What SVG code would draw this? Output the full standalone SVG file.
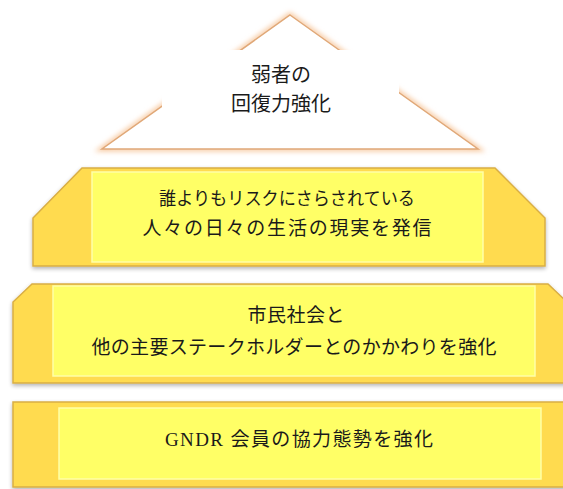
<svg xmlns="http://www.w3.org/2000/svg" width="563" height="489" viewBox="0 0 563 489">
<defs>
<filter id="glow" x="-10%" y="-10%" width="120%" height="120%">
<feGaussianBlur stdDeviation="2.5"/>
</filter>
<filter id="shadow" x="-5%" y="-10%" width="110%" height="130%">
<feGaussianBlur in="SourceAlpha" stdDeviation="2"/>
<feOffset dx="0" dy="2" result="b"/>
<feComponentTransfer><feFuncA type="linear" slope="0.3"/></feComponentTransfer>
<feMerge><feMergeNode/><feMergeNode in="SourceGraphic"/></feMerge>
</filter>
</defs>
<style>
.outer{fill:#FFDB4F;stroke:#D9AE45;stroke-width:1.5;filter:url(#shadow)}
.inner{fill:#FFFF66;stroke:#FFFFA8;stroke-width:1.5}
text{font-family:"Liberation Serif","Noto Sans CJK JP",serif;fill:#1a1a1a;text-anchor:middle}
</style>
<rect width="563" height="489" fill="#ffffff"/>
<g id="tier-top">
<polygon points="290,15 478,149 102,149" fill="none" stroke="#F7C9A0" stroke-width="5" filter="url(#glow)"/>
<polygon points="290,15 478,149 102,149" fill="#ffffff" stroke="#E0A878" stroke-width="1.5"/>
<rect x="162" y="50" width="237" height="87" fill="#ffffff"/>
<text x="281" y="82" font-size="20">弱者の</text>
<text x="281" y="111" font-size="20">回復力強化</text>
</g>
<g id="tier-2">
<polygon class="outer" points="82,168 495,168 545,218 545,266 33,266 33,218"/>
<rect class="inner" x="92" y="172" width="391" height="90"/>
<text x="287" y="205" font-size="18" textLength="256" lengthAdjust="spacingAndGlyphs">誰よりもリスクにさらされている</text>
<text x="287" y="235" font-size="19" textLength="289" lengthAdjust="spacing">人々の日々の生活の現実を発信</text>
</g>
<g id="tier-3">
<polygon class="outer" points="32,284 548,284 567,302 567,383 13,383 13,302"/>
<rect class="inner" x="53" y="286" width="482" height="90"/>
<text x="296" y="322" font-size="19" textLength="97" lengthAdjust="spacing">市民社会と</text>
<text x="294" y="354" font-size="19" textLength="405" lengthAdjust="spacing">他の主要ステークホルダーとのかかわりを強化</text>
</g>
<g id="tier-4">
<rect class="outer" x="13" y="402" width="556" height="85"/>
<rect class="inner" x="59" y="408" width="482" height="71"/>
<text x="299" y="446" font-size="19" textLength="268" lengthAdjust="spacing">GNDR 会員の協力態勢を強化</text>
</g>
<g id="connectors"/>
</svg>
